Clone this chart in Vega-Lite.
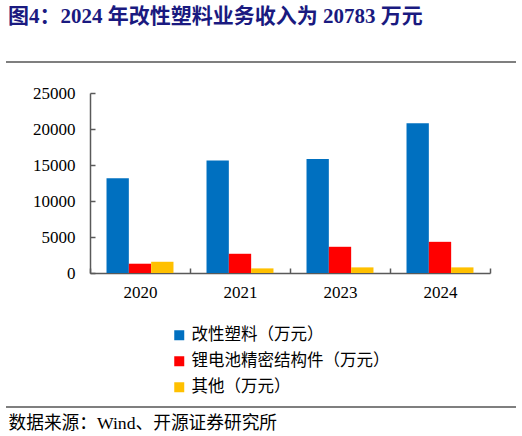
{
  "$schema": "https://vega.github.io/schema/vega-lite/v6.json",
  "autosize": {"type": "none"},
  "padding": {"left": 6, "top": 93, "right": 6, "bottom": 163},
  "width": 510,
  "height": 180,
  "background": "#ffffff",
  "title": {
    "text": "图4：2024 年改性塑料业务收入为 20783 万元",
    "font": "Liberation Serif, Noto Sans CJK SC",
    "fontSize": 21,
    "fontWeight": "bold",
    "color": "#1a1a80",
    "anchor": "start",
    "frame": "group",
    "dx": 2,
    "offset": 34
  },
  "data": {
    "values": [
      {"year": "2020", "series": "改性塑料（万元）", "value": 13150},
      {"year": "2020", "series": "锂电池精密结构件（万元）", "value": 1290},
      {"year": "2020", "series": "其他（万元）", "value": 1560},
      {"year": "2021", "series": "改性塑料（万元）", "value": 15640},
      {"year": "2021", "series": "锂电池精密结构件（万元）", "value": 2670},
      {"year": "2021", "series": "其他（万元）", "value": 640},
      {"year": "2023", "series": "改性塑料（万元）", "value": 15820},
      {"year": "2023", "series": "锂电池精密结构件（万元）", "value": 3640},
      {"year": "2023", "series": "其他（万元）", "value": 780},
      {"year": "2024", "series": "改性塑料（万元）", "value": 20783},
      {"year": "2024", "series": "锂电池精密结构件（万元）", "value": 4330},
      {"year": "2024", "series": "其他（万元）", "value": 780}
    ]
  },
  "layer": [
    {
      "mark": {"type": "bar"},
      "encoding": {
        "x": {
          "field": "year",
          "type": "nominal",
          "scale": {"range": [84, 484], "paddingInner": 0, "paddingOuter": 0},
          "axis": {
            "title": "数据来源：Wind、开源证券研究所",
            "titleFont": "Liberation Serif, Noto Sans CJK SC",
            "titleFontSize": 17.7,
            "titleFontWeight": "normal",
            "titleColor": "#000000",
            "titleAlign": "left",
            "titleAnchor": "start",
            "titleBaseline": "alphabetic",
            "titleX": 2,
            "titleY": 155,
            "labelAngle": 0,
            "labelFont": "Liberation Serif",
            "labelFontSize": 17,
            "labelColor": "#000000",
            "labelPadding": 16,
            "ticks": true,
            "tickBand": "extent",
            "tickSize": -5,
            "tickColor": "#595959",
            "tickWidth": 1.5,
            "domainColor": "#595959",
            "domainWidth": 1.5,
            "grid": false
          }
        },
        "xOffset": {
          "field": "series",
          "type": "nominal",
          "sort": ["改性塑料（万元）", "锂电池精密结构件（万元）", "其他（万元）"],
          "scale": {"paddingInner": 0, "paddingOuter": 0.74}
        },
        "y": {
          "field": "value",
          "type": "quantitative",
          "scale": {"domain": [0, 25000], "nice": false},
          "axis": {"title": null, "values": [0, 5000, 10000, 15000, 20000, 25000], "format": "d"}
        },
        "color": {
          "field": "series",
          "type": "nominal",
          "sort": ["改性塑料（万元）", "锂电池精密结构件（万元）", "其他（万元）"],
          "scale": {
            "domain": ["改性塑料（万元）", "锂电池精密结构件（万元）", "其他（万元）"],
            "range": ["#0070c0", "#ff0000", "#ffc000"]
          },
          "legend": {
            "title": null,
            "orient": "none",
            "legendX": 165,
            "legendY": 234,
            "padding": 0,
            "direction": "vertical",
            "symbolType": "square",
            "symbolSize": 100,
            "symbolStrokeWidth": 0,
            "labelFont": "Liberation Serif, Noto Sans CJK SC",
            "labelFontSize": 16.5,
            "labelLimit": 400,
            "labelColor": "#000000",
            "labelOffset": 4,
            "rowPadding": 9
          }
        }
      }
    },
    {
      "data": {"values": [{"pos": 29306}, {"pos": -18611}]},
      "mark": {"type": "rule", "color": "#000000", "strokeWidth": 1.2},
      "encoding": {
        "y": {
          "field": "pos",
          "type": "quantitative",
          "axis": {"title": null, "values": [0, 5000, 10000, 15000, 20000, 25000], "format": "d"}
        }
      }
    }
  ],
  "config": {
    "view": {"stroke": null},
    "axis": {"labelFont": "Liberation Serif"},
    "axisY": {
      "offset": -84,
      "labelOverlap": false,
      "labelFont": "Liberation Serif",
      "labelFontSize": 17,
      "labelColor": "#000000",
      "labelPadding": 20,
      "ticks": true,
      "tickSize": -5,
      "tickColor": "#595959",
      "tickWidth": 1.5,
      "domainColor": "#595959",
      "domainWidth": 1.5,
      "grid": false
    }
  }
}
